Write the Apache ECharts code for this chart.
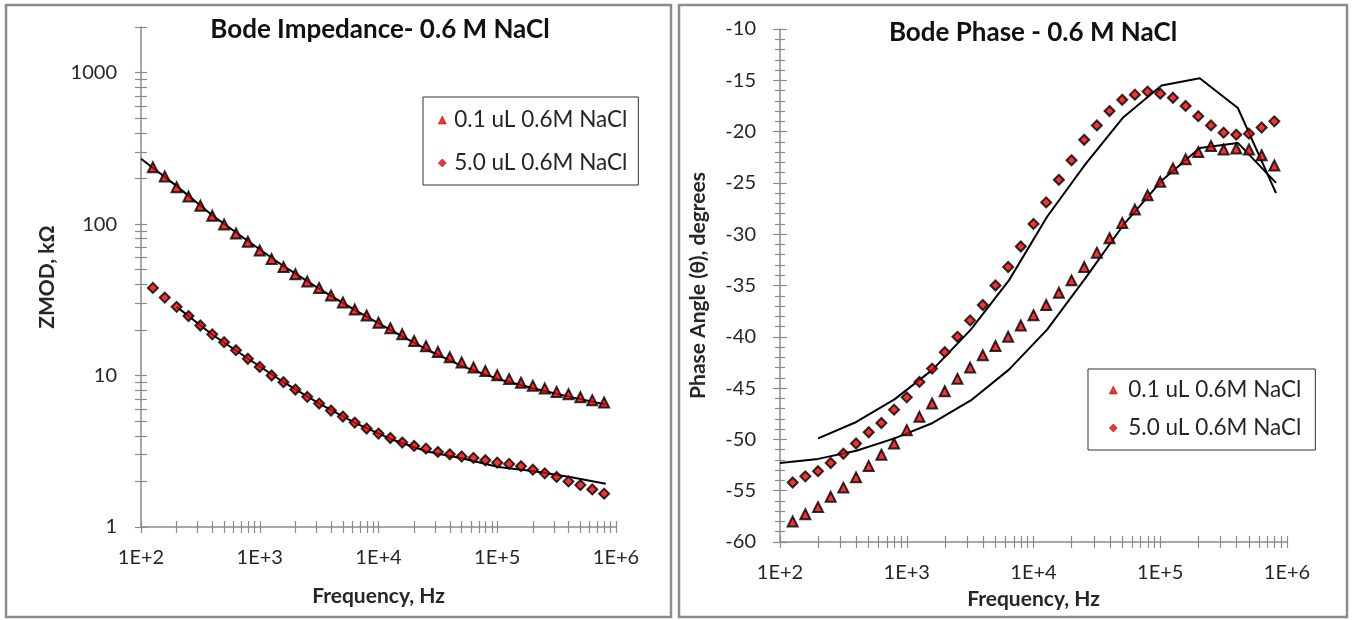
<!DOCTYPE html>
<html>
<head>
<meta charset="utf-8">
<script src="https://cdn.jsdelivr.net/npm/echarts@6/dist/echarts.min.js"></script>
<style>
  html, body { margin: 0; padding: 0; background: #fff; }
  #chart { width: 1352px; height: 620px; }
</style>
</head>
<body>
<div id="chart"></div>
<script>
// measured frequencies, Hz (10 per decade)
var freq = [125.9, 158.5, 199.5, 251.2, 316.2, 398.1, 501.2, 631.0, 794.3, 1000,
  1259, 1585, 1995, 2512, 3162, 3981, 5012, 6310, 7943, 10000,
  12589, 15849, 19953, 25119, 31623, 39811, 50119, 63096, 79433, 100000,
  125893, 158489, 199526, 251189, 316228, 398107, 501187, 630957, 794328];

// fitted model frequencies, Hz
var fitFreq = [100, 200, 400, 800, 1600, 3200, 6400, 12800, 25600, 51200,
  102400, 204800, 409600, 819200];

var name01 = '0.1 uL 0.6M NaCl';
var name50 = '5.0 uL 0.6M NaCl';

// |Z|, kOhm
var zmod01 = [237, 206, 175, 152, 132, 113.5, 99.5, 86.7, 76.4, 67,
  58.7, 52, 46.6, 41.7, 37.8, 33.8, 30.4, 27.3, 24.9, 22.3,
  20.5, 18.7, 16.9, 15.6, 14.3, 13.2, 12.2, 11.3, 10.7, 10.05,
  9.47, 8.96, 8.55, 8.21, 7.80, 7.53, 7.19, 6.87, 6.63];
var zmod50 = [37.9, 32.7, 28.4, 24.7, 21.4, 18.7, 16.6, 14.7, 12.9, 11.4,
  10.0, 9.04, 8.08, 7.23, 6.53, 5.87, 5.36, 4.89, 4.47, 4.14,
  3.87, 3.61, 3.43, 3.29, 3.13, 3.02, 2.92, 2.86, 2.76, 2.66,
  2.61, 2.52, 2.39, 2.26, 2.14, 2.00, 1.89, 1.77, 1.66];
var zfit01 = [270, 178, 114, 77, 52.5, 37.2, 26.9, 19.9, 14.8, 11.5, 9.46, 8.2, 7.23, 6.43];
var zfit50 = [null, 28.4, 18.6, 12.9, 9.0, 6.5, 4.85, 3.8, 3.15, 2.83, 2.49, 2.33, 2.14, 1.93];

// phase angle, degrees
var phase01 = [-58.0, -57.3, -56.6, -55.6, -54.7, -53.7, -52.6, -51.5, -50.4, -49.1,
  -47.8, -46.5, -45.3, -44.1, -43.0, -41.8, -40.9, -40.0, -38.9, -37.9,
  -36.9, -35.7, -34.5, -33.2, -31.8, -30.4, -28.9, -27.6, -26.2, -24.9,
  -23.6, -22.7, -22.0, -21.4, -21.75, -21.65, -21.75, -22.3, -23.3];
var phase50 = [-54.2, -53.6, -53.1, -52.3, -51.4, -50.4, -49.3, -48.4, -47.1, -45.9,
  -44.4, -43.1, -41.5, -40.0, -38.4, -36.9, -35.0, -33.2, -31.2, -29.0,
  -26.9, -24.7, -22.8, -20.8, -19.4, -18.0, -16.9, -16.4, -16.1, -16.3,
  -16.7, -17.5, -18.5, -19.4, -20.1, -20.3, -20.2, -19.6, -19.0];
var phaseFit01 = [-52.3, -51.9, -51.1, -49.9, -48.4, -46.2, -43.2, -39.3, -34.3, -29.1, -24.8, -21.6, -21.1, -25.0];
var phaseFit50 = [null, -49.9, -48.3, -46.1, -43.2, -39.3, -34.5, -28.3, -23.2, -18.6, -15.5, -14.8, -17.7, -26.0];

// axis ticks
var freqLabels = [100, 1000, 10000, 100000, 1000000];
var freqTicks = [100, 200, 300, 400, 500, 600, 700, 800, 900,
  1000, 2000, 3000, 4000, 5000, 6000, 7000, 8000, 9000,
  10000, 20000, 30000, 40000, 50000, 60000, 70000, 80000, 90000,
  100000, 200000, 300000, 400000, 500000, 600000, 700000, 800000, 900000, 1000000];
var zLabels = [1, 10, 100, 1000];
var zTicks = [1, 2, 3, 4, 5, 6, 7, 8, 9, 10, 20, 30, 40, 50, 60, 70, 80, 90,
  100, 200, 300, 400, 500, 600, 700, 800, 900, 1000, 2000];

function pairs(xs, ys) {
  var out = [];
  for (var i = 0; i < xs.length; i++) {
    if (ys[i] != null) out.push([xs[i], ys[i]]);
  }
  return out;
}

var FONT = 'Lato';
var AXIS_GRAY = '#8a8a8a';
var TXT = '#262626';
var RED = '#f00000';

function freqLabel(v) { return '1E+' + Math.round(Math.log10(v)); }

function freqAxes(grid, nameGap) {
  return [{
    gridIndex: grid, type: 'log', logBase: 10, min: 100, max: 1000000, position: 'bottom',
    name: 'Frequency, Hz', nameLocation: 'middle', nameGap: nameGap,
    nameTextStyle: { fontFamily: FONT, fontWeight: 'bold', fontSize: 21, color: TXT },
    axisLine: { lineStyle: { color: AXIS_GRAY, width: 1.5 } },
    axisTick: { customValues: freqTicks, length: 6, lineStyle: { color: AXIS_GRAY, width: 1.2 } },
    axisLabel: { customValues: freqLabels, formatter: freqLabel, margin: 21,
      fontFamily: FONT, fontSize: 20, color: TXT },
    splitLine: { show: false }, minorTick: { show: false }
  }, {
    gridIndex: grid, type: 'log', logBase: 10, min: 100, max: 1000000, position: 'bottom',
    axisLine: { show: false },
    axisTick: { customValues: freqTicks, inside: true, length: 6, lineStyle: { color: AXIS_GRAY, width: 1.2 } },
    axisLabel: { show: false }, splitLine: { show: false }
  }];
}

var option = {
  animation: false,
  textStyle: { fontFamily: FONT },
  graphic: [
    { type: 'rect', shape: { x: 6, y: 5, width: 665, height: 612 },
      style: { fill: 'none', stroke: '#8c8c8c', lineWidth: 2.5 } },
    { type: 'rect', shape: { x: 679, y: 5, width: 668, height: 612 },
      style: { fill: 'none', stroke: '#8c8c8c', lineWidth: 2.5 } }
  ],
  title: [
    { text: 'Bode Impedance- 0.6 M NaCl', left: 375, top: 12, textAlign: 'center',
      textStyle: { fontFamily: FONT, fontWeight: 'bold', fontSize: 26, color: '#111' } },
    { text: 'Bode Phase - 0.6 M NaCl', left: 1028, top: 15, textAlign: 'center',
      textStyle: { fontFamily: FONT, fontWeight: 'bold', fontSize: 26, color: '#111' } }
  ],
  legend: [
    { left: 423, top: 97, orient: 'vertical', itemGap: 19, itemWidth: 8, itemHeight: 8,
      padding: [11, 11, 10, 15],
      backgroundColor: '#fff', borderColor: '#333', borderWidth: 1, borderRadius: 0,
      data: [{ name: name01, icon: 'triangle' }, { name: name50, icon: 'diamond' }],
      itemStyle: { color: RED, borderColor: '#700', borderWidth: 0.6 },
      textStyle: { fontFamily: FONT, fontSize: 22.5, color: TXT, lineHeight: 24, padding: [0, 0, 0, 3] } },
    { left: 1088, top: 369, orient: 'vertical', itemGap: 14, itemWidth: 8, itemHeight: 8,
      padding: [9, 14, 10, 21],
      backgroundColor: '#fff', borderColor: '#333', borderWidth: 1, borderRadius: 0,
      data: [{ name: name01, icon: 'triangle' }, { name: name50, icon: 'diamond' }],
      itemStyle: { color: RED, borderColor: '#700', borderWidth: 0.6 },
      textStyle: { fontFamily: FONT, fontSize: 22.5, color: TXT, lineHeight: 24, padding: [0, 0, 0, 6] } }
  ],
  grid: [
    { left: 141, top: 27, width: 475, height: 500 },
    { left: 780, top: 29, width: 507, height: 513 }
  ],
  xAxis: freqAxes(0, 59).concat(freqAxes(1, 47)),
  yAxis: [{
    gridIndex: 0, type: 'log', logBase: 10, min: 1, max: 2000, position: 'left',
    name: 'ZMOD, kΩ', nameLocation: 'middle', nameGap: 83,
    nameTextStyle: { fontFamily: FONT, fontWeight: 'bold', fontSize: 21, color: TXT },
    axisLine: { lineStyle: { color: AXIS_GRAY, width: 1.5 } },
    axisTick: { customValues: zTicks, length: 6, lineStyle: { color: AXIS_GRAY, width: 1.2 } },
    axisLabel: { customValues: zLabels, formatter: function (v) { return String(Math.round(v)); },
      margin: 24, fontFamily: FONT, fontSize: 20, color: TXT },
    splitLine: { show: false }
  }, {
    gridIndex: 0, type: 'log', logBase: 10, min: 1, max: 2000, position: 'left',
    axisLine: { show: false },
    axisTick: { customValues: zTicks, inside: true, length: 6, lineStyle: { color: AXIS_GRAY, width: 1.2 } },
    axisLabel: { show: false }, splitLine: { show: false }
  }, {
    gridIndex: 1, type: 'value', min: -60, max: -10, interval: 5, position: 'left',
    name: 'Phase Angle (θ), degrees', nameLocation: 'middle', nameGap: 71,
    nameTextStyle: { fontFamily: FONT, fontWeight: 'bold', fontSize: 21, color: TXT },
    axisLine: { lineStyle: { color: AXIS_GRAY, width: 1.5 } },
    axisTick: { length: 7, lineStyle: { color: AXIS_GRAY, width: 1.2 } },
    minorTick: { show: true, splitNumber: 5, length: 5, lineStyle: { color: AXIS_GRAY, width: 1.2 } },
    axisLabel: { margin: 24, fontFamily: FONT, fontSize: 20, color: TXT },
    splitLine: { show: false }
  }, {
    gridIndex: 1, type: 'value', min: -60, max: -10, interval: 5, position: 'left',
    axisLine: { show: false },
    axisTick: { inside: true, length: 7, lineStyle: { color: AXIS_GRAY, width: 1.2 } },
    minorTick: { show: true, splitNumber: 5, length: 5, lineStyle: { color: AXIS_GRAY, width: 1.2 } },
    axisLabel: { show: false }, splitLine: { show: false }
  }],
  series: [
    { name: name01, type: 'scatter', xAxisIndex: 0, yAxisIndex: 0, symbol: 'triangle', symbolSize: 10,
      itemStyle: { color: RED, borderColor: '#000', borderWidth: 2 }, data: pairs(freq, zmod01), z: 3 },
    { name: name50, type: 'scatter', xAxisIndex: 0, yAxisIndex: 0, symbol: 'diamond', symbolSize: 10,
      itemStyle: { color: RED, borderColor: '#000', borderWidth: 2 }, data: pairs(freq, zmod50), z: 3 },
    { name: 'fit 0.1', type: 'line', xAxisIndex: 0, yAxisIndex: 0, showSymbol: false, symbol: 'none',
      lineStyle: { color: '#000', width: 2 }, data: pairs(fitFreq, zfit01), z: 2 },
    { name: 'fit 5.0', type: 'line', xAxisIndex: 0, yAxisIndex: 0, showSymbol: false, symbol: 'none',
      lineStyle: { color: '#000', width: 2 }, data: pairs(fitFreq, zfit50), z: 2 },

    { name: name01, type: 'scatter', xAxisIndex: 2, yAxisIndex: 2, symbol: 'triangle', symbolSize: 10,
      itemStyle: { color: RED, borderColor: '#000', borderWidth: 2 }, data: pairs(freq, phase01), z: 3 },
    { name: name50, type: 'scatter', xAxisIndex: 2, yAxisIndex: 2, symbol: 'diamond', symbolSize: 10,
      itemStyle: { color: RED, borderColor: '#000', borderWidth: 2 }, data: pairs(freq, phase50), z: 3 },
    { name: 'fit 0.1 phase', type: 'line', xAxisIndex: 2, yAxisIndex: 2, showSymbol: false, symbol: 'none',
      lineStyle: { color: '#000', width: 2 }, data: pairs(fitFreq, phaseFit01), z: 2 },
    { name: 'fit 5.0 phase', type: 'line', xAxisIndex: 2, yAxisIndex: 2, showSymbol: false, symbol: 'none',
      lineStyle: { color: '#000', width: 2 }, data: pairs(fitFreq, phaseFit50), z: 2 }
  ]
};

var myChart = echarts.init(document.getElementById('chart'));
myChart.setOption(option);
</script>
</body>
</html>
